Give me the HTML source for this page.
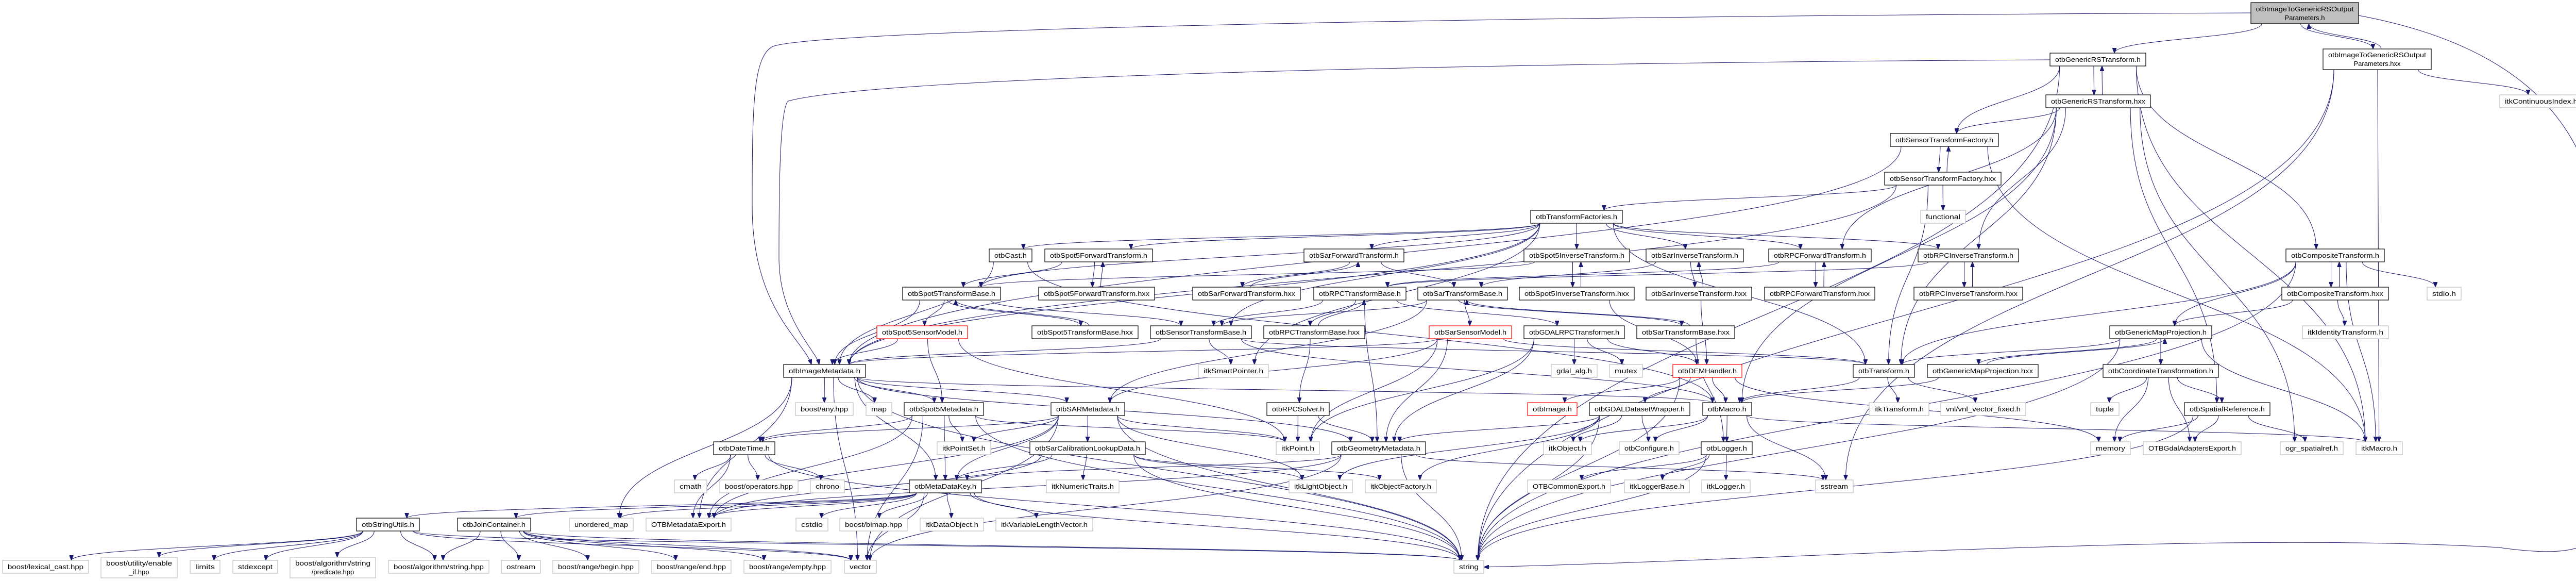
<!DOCTYPE html>
<html><head><meta charset="utf-8">
<style>
html,body{margin:0;padding:0;background:#fff;}
svg{display:block;}
.n rect{fill:#fff;stroke:#000;stroke-width:1.2;}
.g rect{stroke:#bfbfbf;}
.r rect{stroke:#ff0000;}
.s rect{fill:#bfbfbf;}
.n text{font-family:"Liberation Sans",sans-serif;font-size:13px;text-anchor:middle;fill:#000;}
#E path{fill:none;stroke:#191970;stroke-width:1;}
</style></head>
<body>
<svg id="S" width="5055" height="1127" viewBox="0 0 5055 1127" xmlns="http://www.w3.org/2000/svg">
<defs><marker id="a" markerWidth="10" markerHeight="8" refX="10" refY="4" orient="auto" markerUnits="userSpaceOnUse"><path d="M0,0 L10,4 L0,8 z" fill="#191970" stroke="#191970"/></marker></defs>
<g id="E"></g>
<g id="N">
<g id="T" class="n s"><rect x="4369" y="5" width="209" height="41"/><text x="4473.5" y="22" textLength="190" lengthAdjust="spacingAndGlyphs">otbImageToGenericRSOutput</text><text x="4473.5" y="39">Parameters.h</text></g>
<g id="GRS" class="n"><rect x="3979" y="103" width="186" height="25"/><text x="4072" y="120" textLength="166" lengthAdjust="spacingAndGlyphs">otbGenericRSTransform.h</text></g>
<g id="TH" class="n"><rect x="4509" y="95" width="210" height="40"/><text x="4614" y="111" textLength="190" lengthAdjust="spacingAndGlyphs">otbImageToGenericRSOutput</text><text x="4614" y="128">Parameters.hxx</text></g>
<g id="GRSX" class="n"><rect x="3971" y="184" width="203" height="25"/><text x="4072.5" y="201" textLength="183" lengthAdjust="spacingAndGlyphs">otbGenericRSTransform.hxx</text></g>
<g id="CI" class="n g"><rect x="4852" y="184" width="161" height="25"/><text x="4932.5" y="201" textLength="141" lengthAdjust="spacingAndGlyphs">itkContinuousIndex.h</text></g>
<g id="STF" class="n"><rect x="3669" y="259" width="210" height="25"/><text x="3774" y="276" textLength="190" lengthAdjust="spacingAndGlyphs">otbSensorTransformFactory.h</text></g>
<g id="STFX" class="n"><rect x="3658" y="334" width="226" height="25"/><text x="3771" y="351" textLength="206" lengthAdjust="spacingAndGlyphs">otbSensorTransformFactory.hxx</text></g>
<g id="TF" class="n"><rect x="2971" y="408" width="178" height="25"/><text x="3060" y="425" textLength="158" lengthAdjust="spacingAndGlyphs">otbTransformFactories.h</text></g>
<g id="FUN" class="n g"><rect x="3728" y="408" width="87" height="25"/><text x="3771.5" y="425" textLength="67" lengthAdjust="spacingAndGlyphs">functional</text></g>

<g id="CAST" class="n"><rect x="1920" y="483" width="83" height="25"/><text x="1961.5" y="500" textLength="63" lengthAdjust="spacingAndGlyphs">otbCast.h</text></g>
<g id="S5F" class="n"><rect x="2028" y="483" width="209" height="25"/><text x="2132.5" y="500" textLength="189" lengthAdjust="spacingAndGlyphs">otbSpot5ForwardTransform.h</text></g>
<g id="SARF" class="n"><rect x="2531" y="483" width="194" height="25"/><text x="2628" y="500" textLength="174" lengthAdjust="spacingAndGlyphs">otbSarForwardTransform.h</text></g>
<g id="S5I" class="n"><rect x="2958" y="483" width="205" height="25"/><text x="3060.5" y="500" textLength="185" lengthAdjust="spacingAndGlyphs">otbSpot5InverseTransform.h</text></g>
<g id="SARI" class="n"><rect x="3195" y="483" width="189" height="25"/><text x="3289.5" y="500" textLength="169" lengthAdjust="spacingAndGlyphs">otbSarInverseTransform.h</text></g>
<g id="RPCF" class="n"><rect x="3433" y="483" width="199" height="25"/><text x="3532.5" y="500" textLength="179" lengthAdjust="spacingAndGlyphs">otbRPCForwardTransform.h</text></g>
<g id="RPCI" class="n"><rect x="3723" y="483" width="195" height="25"/><text x="3820.5" y="500" textLength="175" lengthAdjust="spacingAndGlyphs">otbRPCInverseTransform.h</text></g>
<g id="COMP" class="n"><rect x="4437" y="483" width="191" height="25"/><text x="4532.5" y="500" textLength="171" lengthAdjust="spacingAndGlyphs">otbCompositeTransform.h</text></g>

<g id="S5TB" class="n"><rect x="1752" y="557" width="190" height="25"/><text x="1847" y="574" textLength="170" lengthAdjust="spacingAndGlyphs">otbSpot5TransformBase.h</text></g>
<g id="S5FX" class="n"><rect x="2016" y="557" width="225" height="25"/><text x="2128.5" y="574" textLength="205" lengthAdjust="spacingAndGlyphs">otbSpot5ForwardTransform.hxx</text></g>
<g id="SARFX" class="n"><rect x="2315" y="557" width="209" height="25"/><text x="2419.5" y="574" textLength="189" lengthAdjust="spacingAndGlyphs">otbSarForwardTransform.hxx</text></g>
<g id="RPCTB" class="n"><rect x="2550" y="557" width="179" height="25"/><text x="2639.5" y="574" textLength="159" lengthAdjust="spacingAndGlyphs">otbRPCTransformBase.h</text></g>
<g id="SARTB" class="n"><rect x="2752" y="557" width="174" height="25"/><text x="2839" y="574" textLength="154" lengthAdjust="spacingAndGlyphs">otbSarTransformBase.h</text></g>
<g id="S5IX" class="n"><rect x="2949" y="557" width="223" height="25"/><text x="3060.5" y="574" textLength="203" lengthAdjust="spacingAndGlyphs">otbSpot5InverseTransform.hxx</text></g>
<g id="SARIX" class="n"><rect x="3195" y="557" width="205" height="25"/><text x="3297.5" y="574" textLength="185" lengthAdjust="spacingAndGlyphs">otbSarInverseTransform.hxx</text></g>
<g id="RPCFX" class="n"><rect x="3425" y="557" width="214" height="25"/><text x="3532" y="574" textLength="194" lengthAdjust="spacingAndGlyphs">otbRPCForwardTransform.hxx</text></g>
<g id="RPCIX" class="n"><rect x="3715" y="557" width="211" height="25"/><text x="3820.5" y="574" textLength="191" lengthAdjust="spacingAndGlyphs">otbRPCInverseTransform.hxx</text></g>
<g id="COMPX" class="n"><rect x="4429" y="557" width="207" height="25"/><text x="4532.5" y="574" textLength="187" lengthAdjust="spacingAndGlyphs">otbCompositeTransform.hxx</text></g>
<g id="STDIO" class="n g"><rect x="4711" y="557" width="66" height="25"/><text x="4744" y="574" textLength="46" lengthAdjust="spacingAndGlyphs">stdio.h</text></g>

<g id="S5SM" class="n r"><rect x="1702" y="632" width="176" height="25"/><text x="1790" y="649" textLength="156" lengthAdjust="spacingAndGlyphs">otbSpot5SensorModel.h</text></g>
<g id="S5TBX" class="n"><rect x="2003" y="632" width="206" height="25"/><text x="2106" y="649" textLength="186" lengthAdjust="spacingAndGlyphs">otbSpot5TransformBase.hxx</text></g>
<g id="STB" class="n"><rect x="2233" y="632" width="196" height="25"/><text x="2331" y="649" textLength="176" lengthAdjust="spacingAndGlyphs">otbSensorTransformBase.h</text></g>
<g id="RPCTBX" class="n"><rect x="2453" y="632" width="196" height="25"/><text x="2551" y="649" textLength="176" lengthAdjust="spacingAndGlyphs">otbRPCTransformBase.hxx</text></g>
<g id="SARSM" class="n r"><rect x="2774" y="632" width="160" height="25"/><text x="2854" y="649" textLength="140" lengthAdjust="spacingAndGlyphs">otbSarSensorModel.h</text></g>
<g id="GDALRPC" class="n"><rect x="2958" y="632" width="195" height="25"/><text x="3055.5" y="649" textLength="175" lengthAdjust="spacingAndGlyphs">otbGDALRPCTransformer.h</text></g>
<g id="SARTBX" class="n"><rect x="3177" y="632" width="190" height="25"/><text x="3272" y="649" textLength="170" lengthAdjust="spacingAndGlyphs">otbSarTransformBase.hxx</text></g>
<g id="GMP" class="n"><rect x="4095" y="632" width="198" height="25"/><text x="4194" y="649" textLength="178" lengthAdjust="spacingAndGlyphs">otbGenericMapProjection.h</text></g>
<g id="IDT" class="n g"><rect x="4469" y="632" width="167" height="25"/><text x="4552.5" y="649" textLength="147" lengthAdjust="spacingAndGlyphs">itkIdentityTransform.h</text></g>

<g id="IMD" class="n"><rect x="1521" y="707" width="159" height="25"/><text x="1600.5" y="724" textLength="139" lengthAdjust="spacingAndGlyphs">otbImageMetadata.h</text></g>
<g id="SP" class="n g"><rect x="2326" y="707" width="136" height="25"/><text x="2394" y="724" textLength="116" lengthAdjust="spacingAndGlyphs">itkSmartPointer.h</text></g>
<g id="GDALALG" class="n g"><rect x="3011" y="707" width="89" height="25"/><text x="3055.5" y="724" textLength="69" lengthAdjust="spacingAndGlyphs">gdal_alg.h</text></g>
<g id="MUTEX" class="n g"><rect x="3124" y="707" width="64" height="25"/><text x="3156" y="724" textLength="44" lengthAdjust="spacingAndGlyphs">mutex</text></g>
<g id="DEM" class="n r"><rect x="3247" y="707" width="134" height="25"/><text x="3314" y="724" textLength="114" lengthAdjust="spacingAndGlyphs">otbDEMHandler.h</text></g>
<g id="TRANS" class="n"><rect x="3597" y="707" width="119" height="25"/><text x="3656.5" y="724" textLength="99" lengthAdjust="spacingAndGlyphs">otbTransform.h</text></g>
<g id="GMPX" class="n"><rect x="3741" y="707" width="215" height="25"/><text x="3848.5" y="724" textLength="195" lengthAdjust="spacingAndGlyphs">otbGenericMapProjection.hxx</text></g>
<g id="COORD" class="n"><rect x="4082" y="707" width="224" height="25"/><text x="4194" y="724" textLength="204" lengthAdjust="spacingAndGlyphs">otbCoordinateTransformation.h</text></g>

<g id="ANY" class="n g"><rect x="1544" y="781" width="112" height="25"/><text x="1600" y="798" textLength="92" lengthAdjust="spacingAndGlyphs">boost/any.hpp</text></g>
<g id="MAP" class="n g"><rect x="1681" y="781" width="50" height="25"/><text x="1706" y="798" textLength="30" lengthAdjust="spacingAndGlyphs">map</text></g>
<g id="S5MD" class="n"><rect x="1755" y="781" width="154" height="25"/><text x="1832" y="798" textLength="134" lengthAdjust="spacingAndGlyphs">otbSpot5Metadata.h</text></g>
<g id="SARMD" class="n"><rect x="2040" y="781" width="143" height="25"/><text x="2111.5" y="798" textLength="123" lengthAdjust="spacingAndGlyphs">otbSARMetadata.h</text></g>
<g id="RPCS" class="n"><rect x="2459" y="781" width="121" height="25"/><text x="2519.5" y="798" textLength="101" lengthAdjust="spacingAndGlyphs">otbRPCSolver.h</text></g>
<g id="IMG" class="n r"><rect x="2965" y="781" width="96" height="25"/><text x="3013" y="798" textLength="76" lengthAdjust="spacingAndGlyphs">otbImage.h</text></g>
<g id="GDW" class="n"><rect x="3085" y="781" width="195" height="25"/><text x="3182.5" y="798" textLength="175" lengthAdjust="spacingAndGlyphs">otbGDALDatasetWrapper.h</text></g>
<g id="MACRO" class="n"><rect x="3305" y="781" width="95" height="25"/><text x="3352.5" y="798" textLength="75" lengthAdjust="spacingAndGlyphs">otbMacro.h</text></g>
<g id="ITKT" class="n g"><rect x="3628" y="781" width="116" height="25"/><text x="3686" y="798" textLength="96" lengthAdjust="spacingAndGlyphs">itkTransform.h</text></g>
<g id="VNL" class="n g"><rect x="3767" y="781" width="165" height="25"/><text x="3849.5" y="798" textLength="145" lengthAdjust="spacingAndGlyphs">vnl/vnl_vector_fixed.h</text></g>
<g id="TUPLE" class="n g"><rect x="4058" y="781" width="55" height="25"/><text x="4085.5" y="798" textLength="35" lengthAdjust="spacingAndGlyphs">tuple</text></g>
<g id="SREF" class="n"><rect x="4240" y="781" width="166" height="25"/><text x="4323" y="798" textLength="146" lengthAdjust="spacingAndGlyphs">otbSpatialReference.h</text></g>

<g id="DT" class="n"><rect x="1385" y="857" width="119" height="25"/><text x="1444.5" y="874" textLength="99" lengthAdjust="spacingAndGlyphs">otbDateTime.h</text></g>
<g id="PS" class="n g"><rect x="1819" y="857" width="104" height="25"/><text x="1871" y="874" textLength="84" lengthAdjust="spacingAndGlyphs">itkPointSet.h</text></g>
<g id="SCLD" class="n"><rect x="1999" y="857" width="224" height="25"/><text x="2111" y="874" textLength="204" lengthAdjust="spacingAndGlyphs">otbSarCalibrationLookupData.h</text></g>
<g id="PT" class="n g"><rect x="2477" y="857" width="84" height="25"/><text x="2519" y="874" textLength="64" lengthAdjust="spacingAndGlyphs">itkPoint.h</text></g>
<g id="GEOM" class="n"><rect x="2585" y="857" width="182" height="25"/><text x="2676" y="874" textLength="162" lengthAdjust="spacingAndGlyphs">otbGeometryMetadata.h</text></g>
<g id="OBJ" class="n g"><rect x="2996" y="857" width="93" height="25"/><text x="3042.5" y="874" textLength="73" lengthAdjust="spacingAndGlyphs">itkObject.h</text></g>
<g id="CONF" class="n g"><rect x="3143" y="857" width="116" height="25"/><text x="3201" y="874" textLength="96" lengthAdjust="spacingAndGlyphs">otbConfigure.h</text></g>
<g id="LOG" class="n"><rect x="3302" y="857" width="99" height="25"/><text x="3351.5" y="874" textLength="79" lengthAdjust="spacingAndGlyphs">otbLogger.h</text></g>
<g id="MEM" class="n g"><rect x="4058" y="857" width="77" height="25"/><text x="4096.5" y="874" textLength="57" lengthAdjust="spacingAndGlyphs">memory</text></g>
<g id="GDALEXP" class="n g"><rect x="4160" y="857" width="190" height="25"/><text x="4255" y="874" textLength="170" lengthAdjust="spacingAndGlyphs">OTBGdalAdaptersExport.h</text></g>
<g id="OGR" class="n g"><rect x="4426" y="857" width="122" height="25"/><text x="4487" y="874" textLength="102" lengthAdjust="spacingAndGlyphs">ogr_spatialref.h</text></g>
<g id="ITKM" class="n g"><rect x="4573" y="857" width="90" height="25"/><text x="4618" y="874" textLength="70" lengthAdjust="spacingAndGlyphs">itkMacro.h</text></g>

<g id="CMATH" class="n g"><rect x="1309" y="931" width="63" height="25"/><text x="1340.5" y="948" textLength="43" lengthAdjust="spacingAndGlyphs">cmath</text></g>
<g id="OPS" class="n g"><rect x="1397" y="931" width="152" height="25"/><text x="1473" y="948" textLength="132" lengthAdjust="spacingAndGlyphs">boost/operators.hpp</text></g>
<g id="CHRONO" class="n g"><rect x="1573" y="931" width="66" height="25"/><text x="1606" y="948" textLength="46" lengthAdjust="spacingAndGlyphs">chrono</text></g>
<g id="MDK" class="n"><rect x="1765" y="931" width="140" height="25"/><text x="1835" y="948" textLength="120" lengthAdjust="spacingAndGlyphs">otbMetaDataKey.h</text></g>
<g id="NT" class="n g"><rect x="2031" y="931" width="141" height="25"/><text x="2101.5" y="948" textLength="121" lengthAdjust="spacingAndGlyphs">itkNumericTraits.h</text></g>
<g id="LO" class="n g"><rect x="2502" y="931" width="123" height="25"/><text x="2563.5" y="948" textLength="103" lengthAdjust="spacingAndGlyphs">itkLightObject.h</text></g>
<g id="OF" class="n g"><rect x="2650" y="931" width="138" height="25"/><text x="2719" y="948" textLength="118" lengthAdjust="spacingAndGlyphs">itkObjectFactory.h</text></g>
<g id="CEXP" class="n g"><rect x="2965" y="931" width="161" height="25"/><text x="3045.5" y="948" textLength="141" lengthAdjust="spacingAndGlyphs">OTBCommonExport.h</text></g>
<g id="LB" class="n g"><rect x="3153" y="931" width="126" height="25"/><text x="3216" y="948" textLength="106" lengthAdjust="spacingAndGlyphs">itkLoggerBase.h</text></g>
<g id="LG" class="n g"><rect x="3303" y="931" width="94" height="25"/><text x="3350" y="948" textLength="74" lengthAdjust="spacingAndGlyphs">itkLogger.h</text></g>
<g id="SS" class="n g"><rect x="3524" y="931" width="73" height="25"/><text x="3560.5" y="948" textLength="53" lengthAdjust="spacingAndGlyphs">sstream</text></g>

<g id="SU" class="n"><rect x="692" y="1005" width="122" height="25"/><text x="753" y="1022" textLength="102" lengthAdjust="spacingAndGlyphs">otbStringUtils.h</text></g>
<g id="JC" class="n"><rect x="888" y="1005" width="142" height="25"/><text x="959" y="1022" textLength="122" lengthAdjust="spacingAndGlyphs">otbJoinContainer.h</text></g>
<g id="UM" class="n g"><rect x="1105" y="1005" width="124" height="25"/><text x="1167" y="1022" textLength="104" lengthAdjust="spacingAndGlyphs">unordered_map</text></g>
<g id="MEXP" class="n g"><rect x="1254" y="1005" width="165" height="25"/><text x="1336.5" y="1022" textLength="145" lengthAdjust="spacingAndGlyphs">OTBMetadataExport.h</text></g>
<g id="CSTDIO" class="n g"><rect x="1545" y="1005" width="62" height="25"/><text x="1576" y="1022" textLength="42" lengthAdjust="spacingAndGlyphs">cstdio</text></g>
<g id="BIMAP" class="n g"><rect x="1630" y="1005" width="131" height="25"/><text x="1695.5" y="1022" textLength="111" lengthAdjust="spacingAndGlyphs">boost/bimap.hpp</text></g>
<g id="DO" class="n g"><rect x="1786" y="1005" width="123" height="25"/><text x="1847.5" y="1022" textLength="103" lengthAdjust="spacingAndGlyphs">itkDataObject.h</text></g>
<g id="VLV" class="n g"><rect x="1933" y="1005" width="188" height="25"/><text x="2027" y="1022" textLength="168" lengthAdjust="spacingAndGlyphs">itkVariableLengthVector.h</text></g>

<g id="LC" class="n g"><rect x="5" y="1087" width="167" height="25"/><text x="88.5" y="1104" textLength="147" lengthAdjust="spacingAndGlyphs">boost/lexical_cast.hpp</text></g>
<g id="EI" class="n g"><rect x="196" y="1081" width="148" height="40"/><text x="270" y="1097" textLength="128" lengthAdjust="spacingAndGlyphs">boost/utility/enable</text><text x="270" y="1114">_if.hpp</text></g>
<g id="LIM" class="n g"><rect x="369" y="1087" width="58" height="25"/><text x="398" y="1104" textLength="38" lengthAdjust="spacingAndGlyphs">limits</text></g>
<g id="STDEXC" class="n g"><rect x="452" y="1087" width="87" height="25"/><text x="495.5" y="1104" textLength="67" lengthAdjust="spacingAndGlyphs">stdexcept</text></g>
<g id="PRED" class="n g"><rect x="563" y="1081" width="166" height="40"/><text x="646" y="1097" textLength="146" lengthAdjust="spacingAndGlyphs">boost/algorithm/string</text><text x="646" y="1114">/predicate.hpp</text></g>
<g id="ALGS" class="n g"><rect x="754" y="1087" width="195" height="25"/><text x="851.5" y="1104" textLength="175" lengthAdjust="spacingAndGlyphs">boost/algorithm/string.hpp</text></g>
<g id="OST" class="n g"><rect x="973" y="1087" width="76" height="25"/><text x="1011" y="1104" textLength="56" lengthAdjust="spacingAndGlyphs">ostream</text></g>
<g id="BEG" class="n g"><rect x="1073" y="1087" width="167" height="25"/><text x="1156.5" y="1104" textLength="147" lengthAdjust="spacingAndGlyphs">boost/range/begin.hpp</text></g>
<g id="END" class="n g"><rect x="1265" y="1087" width="154" height="25"/><text x="1342" y="1104" textLength="134" lengthAdjust="spacingAndGlyphs">boost/range/end.hpp</text></g>
<g id="EMPTY" class="n g"><rect x="1444" y="1087" width="169" height="25"/><text x="1528.5" y="1104" textLength="149" lengthAdjust="spacingAndGlyphs">boost/range/empty.hpp</text></g>
<g id="VEC" class="n g"><rect x="1639" y="1087" width="62" height="25"/><text x="1670" y="1104" textLength="42" lengthAdjust="spacingAndGlyphs">vector</text></g>
<g id="STR" class="n g"><rect x="2822" y="1087" width="58" height="25"/><text x="2851" y="1104" textLength="38" lengthAdjust="spacingAndGlyphs">string</text></g>
</g>
</svg>
<script>
(function(){
var edges="T>GRS T>TH TH>T T>IMD T>STR TH>CI TH>SS TH>STR TH>ITKM GRS>STF GRS>GRSX GRSX>GRS GRS>IMD GRS>COMP GRS>ITKM GRS>STR GRSX>STF GRSX>RPCF GRSX>RPCI GRSX>TRANS GRSX>MACRO GRSX>SREF GRSX>OGR STF>STFX STFX>STF STF>IMD STF>ITKM STFX>TF STFX>FUN STFX>IMD STFX>TRANS TF>CAST TF>S5F TF>SARF TF>S5I TF>SARI TF>RPCF TF>RPCI TF>IMD TF>STB TF>TRANS TF>S5TB TF>SP S5F>S5FX S5FX>S5F S5F>S5TB CAST>IMD CAST>MACRO SARF>SARFX SARFX>SARF SARF>SARTB S5I>S5IX S5IX>S5I S5I>S5TB SARI>SARIX SARIX>SARI SARI>SARTB RPCF>RPCFX RPCFX>RPCF RPCF>RPCTB RPCI>RPCIX RPCIX>RPCI RPCI>RPCTB COMP>COMPX COMPX>COMP COMP>STDIO COMP>GMP COMP>TRANS COMP>ITKM COMP>STR COMPX>GMP COMPX>IDT S5TB>S5SM S5TB>S5TBX S5TBX>S5TB S5TB>STB S5TB>IMD RPCTB>RPCTBX RPCTBX>RPCTB RPCTB>STB RPCTB>GEOM RPCTB>GDALRPC RPCTBX>RPCS SARTB>SARSM SARTB>SARTBX SARTBX>SARTB SARTB>STB SARTB>SARMD SARIX>DEM S5IX>DEM SARTBX>LOG STB>IMD STB>SP STB>TRANS STB>MACRO S5SM>IMD S5SM>S5MD S5SM>PT SARSM>SARMD SARSM>PT SARSM>GEOM SARSM>TRANS SARSM>IMD GDALRPC>GDALALG GDALRPC>MUTEX GDALRPC>DEM GDALRPC>GEOM GDALRPC>PT DEM>IMG DEM>GDW DEM>MACRO DEM>STR DEM>MEM IMD>ANY IMD>MAP IMD>S5MD IMD>SARMD IMD>MDK IMD>STR IMD>VEC IMD>MEXP IMD>UM IMD>MACRO IMD>GEOM S5MD>DT S5MD>MDK S5MD>PS S5MD>PT S5MD>MEXP S5MD>STR S5MD>VEC SARMD>DT SARMD>MDK SARMD>PS SARMD>PT SARMD>SCLD SARMD>MEXP SARMD>STR SARMD>VEC SARMD>LO RPCS>PT RPCS>GEOM DT>CMATH DT>OPS DT>CHRONO DT>MEXP DT>STR SCLD>MDK SCLD>NT SCLD>LO SCLD>OF SCLD>MEXP SCLD>STR GEOM>MDK GEOM>STR GEOM>SS GEOM>MEXP GEOM>VEC GDW>GEOM GDW>OBJ GDW>CONF GDW>LO GDW>OF GDW>STR MACRO>OBJ MACRO>CONF MACRO>LOG MACRO>SS MACRO>ITKM LOG>CEXP LOG>LB LOG>LG LOG>STR TRANS>ITKT TRANS>VNL TRANS>MACRO GMP>GMPX GMPX>GMP GMP>COORD GMP>ITKM GMP>TRANS GMPX>MACRO GMP>STR COORD>TUPLE COORD>MEM COORD>GDALEXP COORD>SREF SREF>MEM SREF>GDALEXP SREF>OGR SREF>STR MDK>SU MDK>JC MDK>UM MDK>MEXP MDK>CSTDIO MDK>BIMAP MDK>DO MDK>VLV MDK>STR MDK>VEC SU>LC SU>EI SU>LIM SU>STDEXC SU>PRED SU>ALGS SU>STR SU>VEC JC>OST JC>BEG JC>END JC>EMPTY JC>ALGS JC>STR JC>VEC".split(" ");
var custom={
 "T>IMD":"M4369,25 C3000,30 1600,55 1500,90 C1462,110 1460,200 1460,400 C1460,600 1560,660 1575,707",
 "GRS>IMD":"M3979,116 C2800,122 1700,150 1530,196 C1512,210 1512,400 1512,500 C1512,620 1585,680 1590,707",
 "T>STR":"M4578,30 C4900,90 5048,250 5048,500 L5048,1000 C5048,1070 4980,1080 4850,1062 C4300,1030 3500,1085 2880,1100"
};
var set={};edges.forEach(function(e){set[e]=1;});
var g=document.getElementById('E');
function box(id){var r=document.querySelector('#'+id+' rect');return {x:+r.getAttribute('x'),y:+r.getAttribute('y'),w:+r.getAttribute('width'),h:+r.getAttribute('height')};}
function cl(v,a){return Math.max(-a,Math.min(a,v));}
var NS="http://www.w3.org/2000/svg";
edges.forEach(function(e){
 var p=e.split('>'),A=box(p[0]),B=box(p[1]);
 var ac=A.x+A.w/2,bc=B.x+B.w/2,sx,sy,ex,ey,d;
 var pair=set[p[1]+'>'+p[0]];
 if(custom[e]){d=custom[e];}
 else if(B.y>A.y+A.h){
  sy=A.y+A.h;ey=B.y;
  sx=ac+cl((bc-ac)*0.25,A.w*0.4);ex=bc+cl((ac-bc)*0.08,B.w*0.3);
  if(pair){sx=ac-8;ex=bc-8;}
  var dy=ey-sy;
  d="M"+sx+","+sy+" C"+sx+","+(sy+dy*0.5)+" "+ex+","+(ey-dy*0.5)+" "+ex+","+ey;
 }else if(B.y+B.h<A.y){
  sy=A.y;ey=B.y+B.h;
  sx=ac+cl((bc-ac)*0.25,A.w*0.4);ex=bc+cl((ac-bc)*0.08,B.w*0.3);
  if(pair){sx=ac+8;ex=bc+8;}
  var dy=ey-sy;
  d="M"+sx+","+sy+" C"+sx+","+(sy+dy*0.5)+" "+ex+","+(ey-dy*0.5)+" "+ex+","+ey;
 }else{
  sy=A.y+A.h/2;ey=B.y+B.h/2;
  if(bc>ac){sx=A.x+A.w;ex=B.x;}else{sx=A.x;ex=B.x+B.w;}
  d="M"+sx+","+sy+" L"+ex+","+ey;
 }
 var path=document.createElementNS(NS,'path');
 path.setAttribute('d',d);path.setAttribute('marker-end','url(#a)');
 g.appendChild(path);
});
})();
</script>
</body></html>
